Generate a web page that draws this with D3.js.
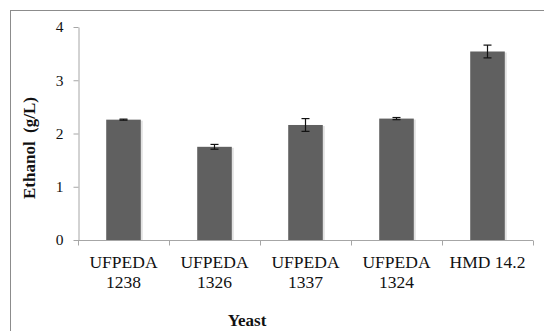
<!DOCTYPE html>
<html>
<head>
<meta charset="utf-8">
<script src="https://cdn.jsdelivr.net/npm/d3@7"></script>
<style>
  html, body { margin: 0; padding: 0; background: #fff; }
  svg { display: block; }
  text { font-family: "Liberation Serif", "Times New Roman", serif; }
</style>
</head>
<body>
<svg id="chart" width="544" height="331"></svg>
<script>
// Ethanol produced by each yeast strain, with standard deviation
const strainNames = ["UFPEDA\n1238", "UFPEDA\n1326", "UFPEDA\n1337", "UFPEDA\n1324", "HMD 14.2"];
const ethanolMeans = [2.26, 1.75, 2.16, 2.28, 3.54];
const ethanolErrors = [0.01, 0.045, 0.12, 0.02, 0.12];
const yTicks = [0, 1, 2, 3, 4];

const svg = d3.select("#chart");
const W = 544, H = 331;
const margin = { left: 78, right: 11, top: 27, bottom: 91 };
const font = "Liberation Serif, Times New Roman, serif";

svg.append("rect").attr("width", W).attr("height", H).attr("fill", "#fff");

// chart-area border (runs past the right and bottom edges)
svg.append("rect")
  .attr("x", 10.5).attr("y", 10.5)
  .attr("width", W + 20).attr("height", H + 20)
  .attr("fill", "none").attr("stroke", "#8c8c8c").attr("stroke-width", 1);

const x = d3.scaleBand()
  .domain(strainNames)
  .range([margin.left, W - margin.right])
  .paddingInner(0.62).paddingOuter(0.31);

const band = d3.scaleBand().domain(strainNames).range([margin.left, W - margin.right]);

const y = d3.scaleLinear().domain([0, 4]).range([H - margin.bottom, margin.top]);

// bar shadows
svg.append("g").selectAll("rect").data(strainNames).join("rect")
  .attr("x", (d) => x(d) + 2)
  .attr("y", (d, i) => y(ethanolMeans[i]) + 1)
  .attr("width", x.bandwidth())
  .attr("height", (d, i) => y(0) - y(ethanolMeans[i]) - 1)
  .attr("fill", "#e2e2e2");

// bars
svg.append("g").selectAll("rect").data(strainNames).join("rect")
  .attr("x", (d) => x(d))
  .attr("y", (d, i) => y(ethanolMeans[i]))
  .attr("width", x.bandwidth())
  .attr("height", (d, i) => y(0) - y(ethanolMeans[i]))
  .attr("fill", "#606060");

// error bars
const eb = svg.append("g").attr("stroke", "#111").attr("stroke-width", 1.2);
strainNames.forEach((d, i) => {
  const cx = x(d) + x.bandwidth() / 2;
  const y1 = y(ethanolMeans[i] + ethanolErrors[i]);
  const y2 = y(ethanolMeans[i] - ethanolErrors[i]);
  eb.append("line").attr("x1", cx).attr("x2", cx).attr("y1", y1).attr("y2", y2);
  eb.append("line").attr("x1", cx - 4).attr("x2", cx + 4).attr("y1", y1).attr("y2", y1);
  eb.append("line").attr("x1", cx - 4).attr("x2", cx + 4).attr("y1", y2).attr("y2", y2);
});

// y axis
const yAxis = svg.append("g")
  .attr("transform", `translate(${margin.left + 0.5},0)`)
  .call(d3.axisLeft(y).tickValues(yTicks).tickFormat(d3.format("d"))
    .tickSize(5).tickPadding(10).tickSizeOuter(0));
yAxis.attr("font-family", font);
yAxis.select(".domain").attr("stroke", "#a6a6a6");
yAxis.selectAll(".tick line").attr("stroke", "#a6a6a6");
yAxis.selectAll(".tick text")
  .attr("font-size", 15.5).attr("fill", "#111");

// x axis with ticks at category boundaries
const xg = svg.append("g").attr("transform", `translate(0,${y(0) + 0.5})`);
xg.append("line")
  .attr("x1", margin.left).attr("x2", W - margin.right)
  .attr("stroke", "#a6a6a6");
const bounds = strainNames.map((d) => band(d)).concat([band(strainNames[strainNames.length - 1]) + band.bandwidth()]);
xg.selectAll("line.tk").data(bounds).join("line")
  .attr("class", "tk")
  .attr("x1", (d) => Math.round(d) + 0.5).attr("x2", (d) => Math.round(d) + 0.5)
  .attr("y1", 0).attr("y2", 5)
  .attr("stroke", "#a6a6a6");

// category labels (two lines)
strainNames.forEach((d) => {
  const cx = band(d) + band.bandwidth() / 2;
  const t = xg.append("text")
    .attr("text-anchor", "middle")
    .attr("font-size", 17.5).attr("fill", "#111");
  d.split("\n").forEach((line, k) => {
    t.append("tspan").attr("x", cx).attr("y", 27.5 + k * 19.5).text(line);
  });
});

// axis titles
svg.append("text")
  .attr("x", 247).attr("y", 326)
  .attr("text-anchor", "middle")
  .attr("font-size", 17).attr("font-weight", "bold")
  .attr("fill", "#111")
  .text("Yeast");

svg.append("text")
  .attr("transform", "translate(35,148) rotate(-90)")
  .attr("text-anchor", "middle")
  .attr("font-size", 17).attr("font-weight", "bold")
  .attr("fill", "#111")
  .style("white-space", "pre")
  .text("Ethanol  (g/L)");
</script>
</body>
</html>
